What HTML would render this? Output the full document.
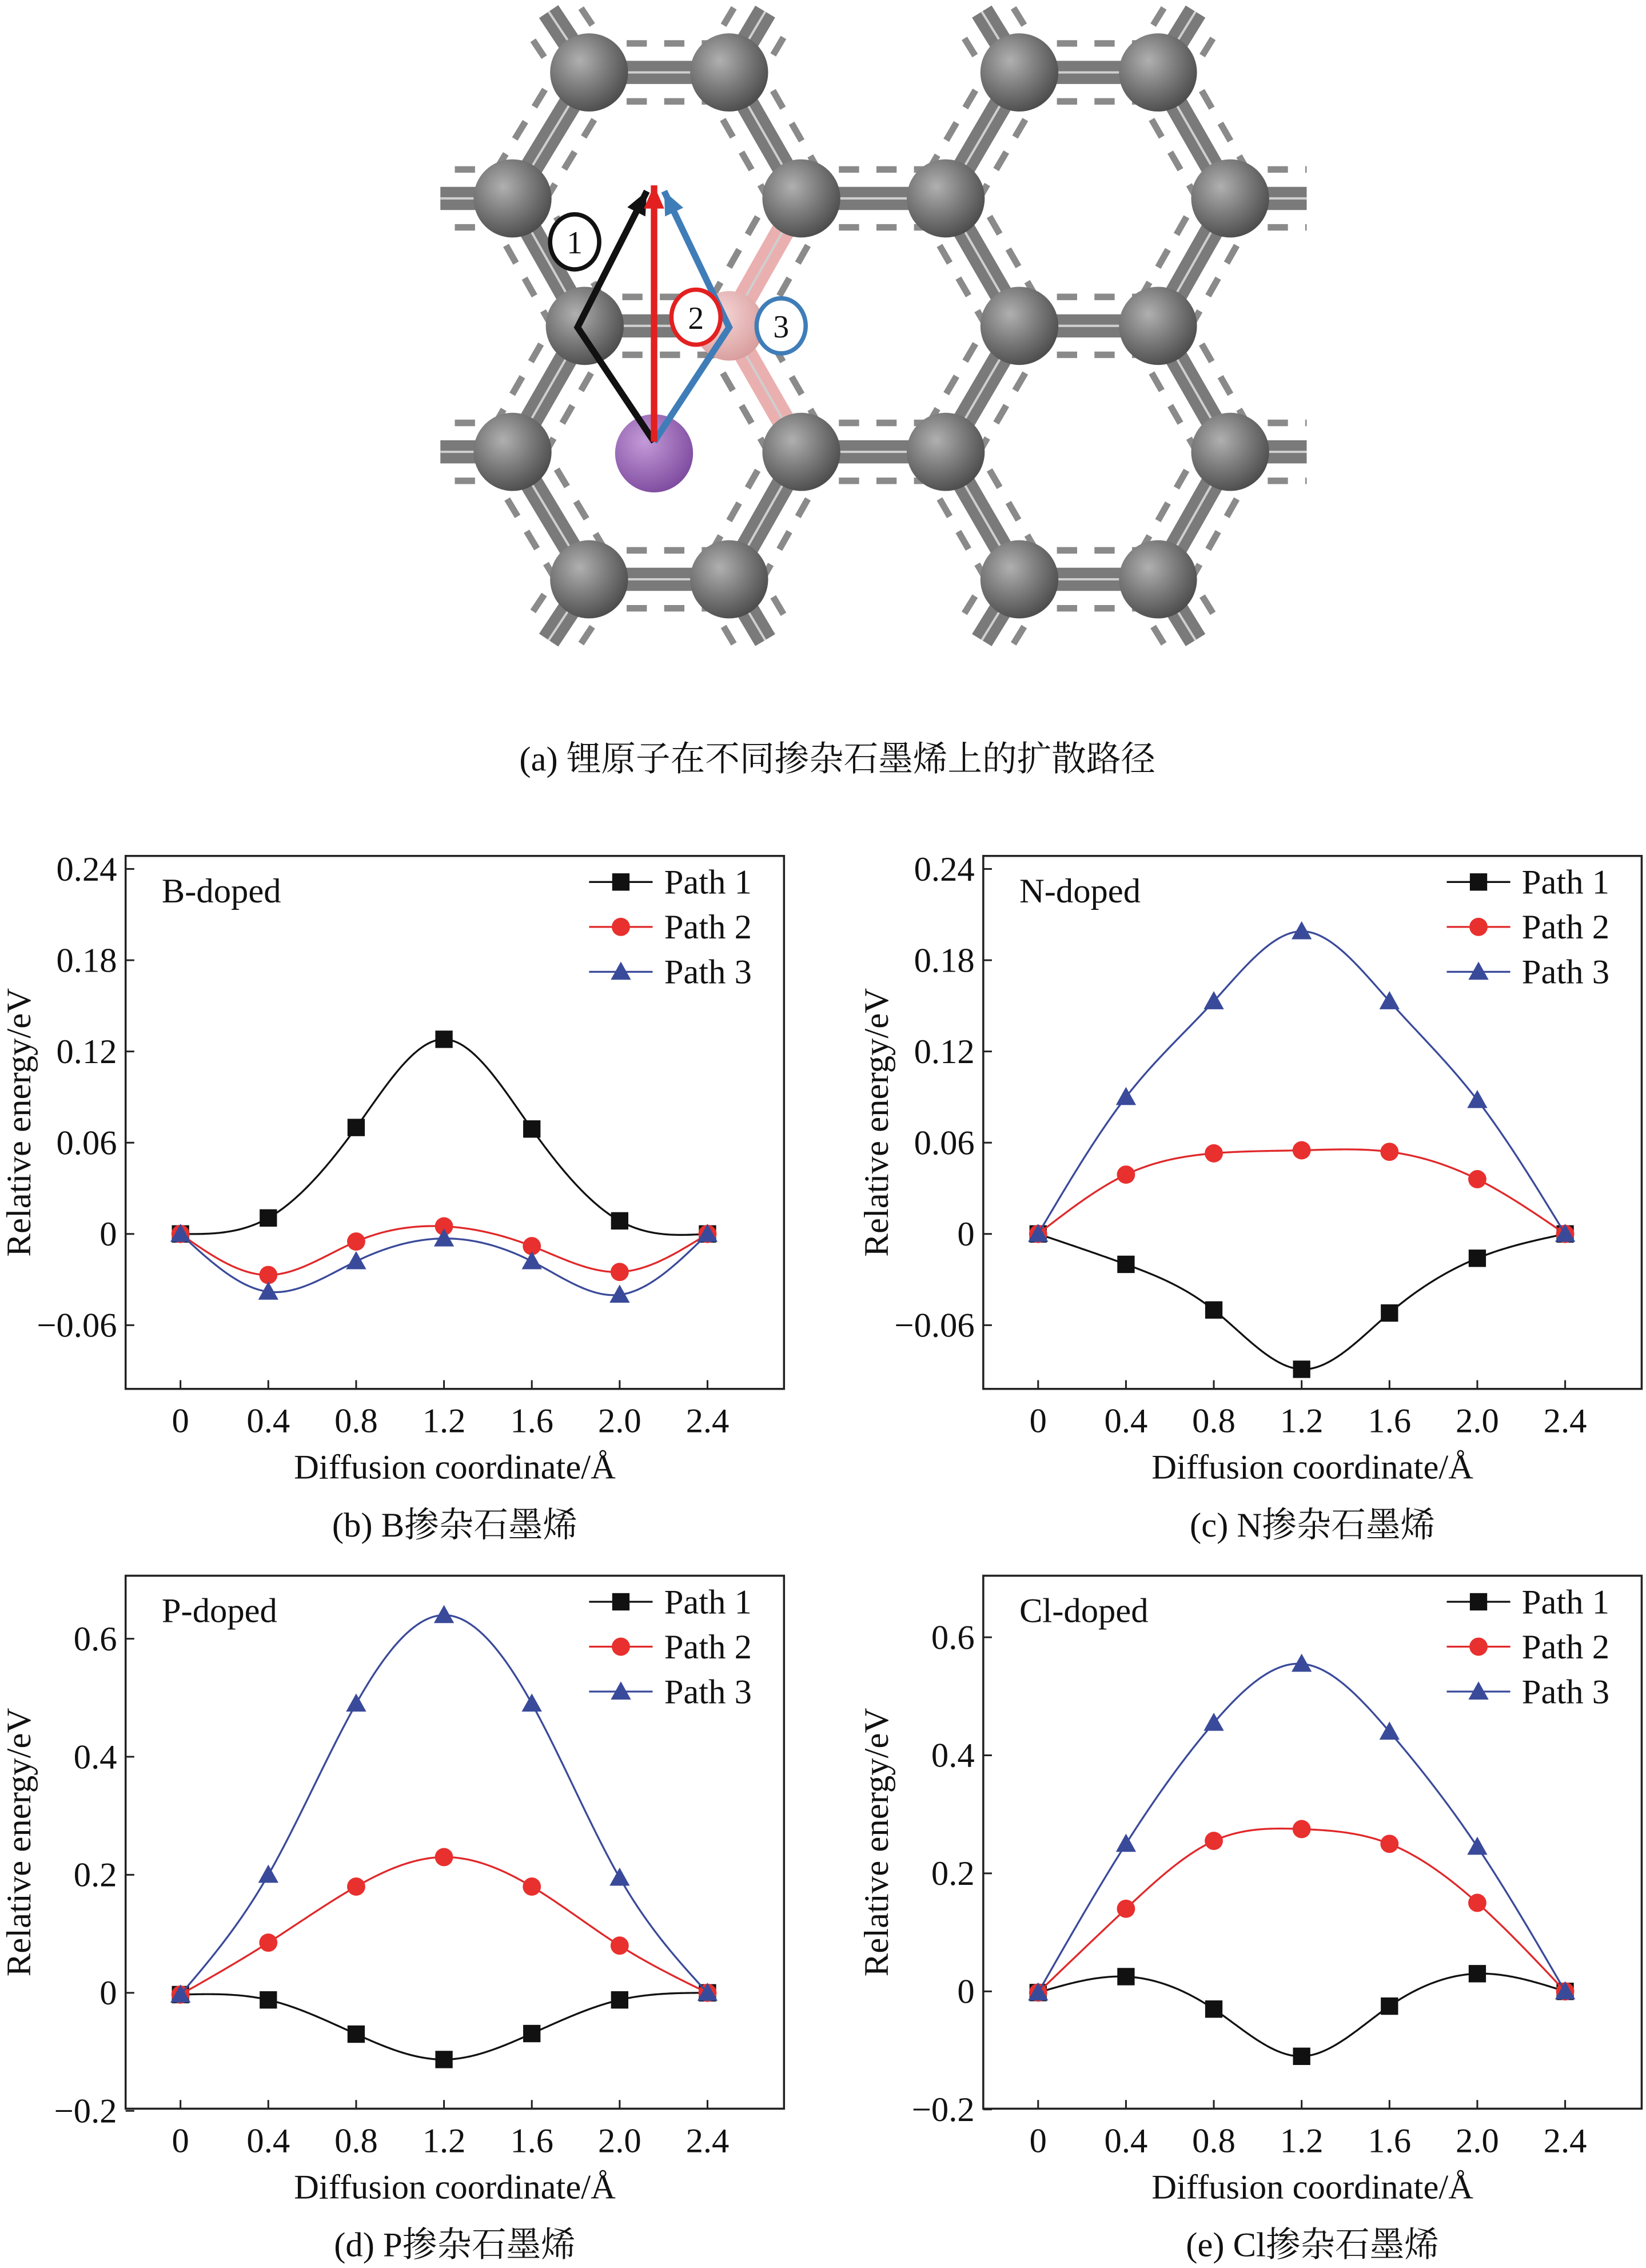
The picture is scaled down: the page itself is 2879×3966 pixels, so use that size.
<!DOCTYPE html>
<html><head><meta charset="utf-8"><style>
html,body{margin:0;padding:0;background:#fff;width:2879px;height:3966px;overflow:hidden}
svg{display:block}
text{font-family:"Liberation Serif","Noto Serif CJK SC","Noto Sans CJK SC",serif;fill:#111}
</style></head><body>
<svg id="root" width="2879" height="3966" viewBox="0 0 1140 1566" preserveAspectRatio="none" xmlns="http://www.w3.org/2000/svg">
<defs>
<radialGradient id="cg" cx="0.38" cy="0.35" r="0.7"><stop offset="0" stop-color="#b0b0b0"/><stop offset="0.5" stop-color="#7c7c7c"/><stop offset="1" stop-color="#4a4a4a"/></radialGradient>
<radialGradient id="pg" cx="0.38" cy="0.35" r="0.7"><stop offset="0" stop-color="#f6d6d6"/><stop offset="1" stop-color="#d89c9c"/></radialGradient>
<radialGradient id="lg" cx="0.38" cy="0.35" r="0.7"><stop offset="0" stop-color="#c49ad8"/><stop offset="1" stop-color="#7d4a9e"/></radialGradient>
</defs>
<g id="mol"></g>
<text x="580" y="532" text-anchor="middle" font-size="24">(a) 锂原子在不同掺杂石墨烯上的扩散路径</text>
<g id="charts"></g>
</svg>
<script>
// ---- chart data ----
var xCats = [0, 0.4, 0.8, 1.2, 1.6, 2.0, 2.4];
var xTickLabels = ["0","0.4","0.8","1.2","1.6","2.0","2.4"];
var seriesNames = ["Path 1","Path 2","Path 3"];
var bPath1 = [0, 0.0105, 0.070, 0.128, 0.069, 0.0086, 0];
var bPath2 = [0, -0.027, -0.005, 0.005, -0.008, -0.025, 0];
var bPath3 = [0, -0.038, -0.018, -0.003, -0.018, -0.040, 0];
var cPath1 = [0, -0.020, -0.050, -0.089, -0.052, -0.016, 0];
var cPath2 = [0, 0.039, 0.053, 0.055, 0.054, 0.036, 0];
var cPath3 = [0, 0.090, 0.153, 0.199, 0.153, 0.088, 0];
var dPath1 = [-0.003, -0.012, -0.070, -0.113, -0.069, -0.012, 0];
var dPath2 = [-0.003, 0.085, 0.180, 0.230, 0.180, 0.080, 0];
var dPath3 = [-0.003, 0.200, 0.490, 0.640, 0.490, 0.195, 0];
var ePath1 = [-0.002, 0.025, -0.030, -0.110, -0.025, 0.030, 0];
var ePath2 = [-0.002, 0.140, 0.255, 0.275, 0.250, 0.150, 0];
var ePath3 = [-0.002, 0.250, 0.455, 0.555, 0.440, 0.245, 0];
var smallTicks = [-0.06, 0, 0.06, 0.12, 0.18, 0.24];
var smallTickLabels = ["\u22120.06","0","0.06","0.12","0.18","0.24"];
var bigTicks = [-0.2, 0, 0.2, 0.4, 0.6];
var bigTickLabels = ["\u22120.2","0","0.2","0.4","0.6"];

var NS="http://www.w3.org/2000/svg";
function mk(tag, attrs, parent){var e=document.createElementNS(NS,tag);for(var k in attrs)e.setAttribute(k,attrs[k]);if(parent)parent.appendChild(e);return e;}
var lineColors=["#111","#e0282a","#3a4a9a"];

function spline(xs, ys){
  var n=xs.length, h=[], a=[], l=[1], mu=[0], z=[0], c=new Array(n).fill(0), b=[], d=[];
  for(var i=0;i<n-1;i++)h[i]=xs[i+1]-xs[i];
  for(i=1;i<n-1;i++)a[i]=3/h[i]*(ys[i+1]-ys[i])-3/h[i-1]*(ys[i]-ys[i-1]);
  for(i=1;i<n-1;i++){l[i]=2*(xs[i+1]-xs[i-1])-h[i-1]*mu[i-1];mu[i]=h[i]/l[i];z[i]=(a[i]-h[i-1]*z[i-1])/l[i];}
  l[n-1]=1;z[n-1]=0;
  for(var j=n-2;j>=0;j--){c[j]=z[j]-mu[j]*c[j+1];b[j]=(ys[j+1]-ys[j])/h[j]-h[j]*(c[j+1]+2*c[j])/3;d[j]=(c[j+1]-c[j])/(3*h[j]);}
  return function(x){var k=0;while(k<n-2&&x>xs[k+1])k++;var t=x-xs[k];return ys[k]+b[k]*t+c[k]*t*t+d[k]*t*t*t;};
}

function chart(cfg){
  var g=mk("g",{},document.getElementById("charts"));
  
  
  var L=cfg.left,R=cfg.left+456,T=cfg.top,B=cfg.top+368;
  var X=function(v){return cfg.x0+v*(365/2.4);};
  var Y=function(v){return cfg.y0-v*cfg.ppu;};
  var fr=mk("rect",{x:L,y:T,width:R-L,height:B-T,fill:"none",stroke:"#222","stroke-width":1.4},g);
  
  
  xCats.forEach(function(v,i){
    var t=mk("line",{x1:X(v),x2:X(v),y1:B,y2:B-6,stroke:"#222","stroke-width":1.2},g);
    
    
    var lb=mk("text",{x:X(v),y:B+30,"text-anchor":"middle","font-size":24},g);lb.textContent=xTickLabels[i];
    
    
  });
  cfg.ticks.forEach(function(v,i){
    var t=mk("line",{x1:L,x2:L+6,y1:Y(v),y2:Y(v),stroke:"#222","stroke-width":1.2},g);
    
    
    var lb=mk("text",{x:L-6,y:Y(v)+8,"text-anchor":"end","font-size":24},g);lb.textContent=cfg.tickLabels[i];
    
    
  });
  var xt=mk("text",{x:(L+R)/2,y:B+62,"text-anchor":"middle","font-size":24},g);xt.textContent="Diffusion coordinate/\u00C5";
  
  
  var yt=mk("text",{x:0,y:0,"text-anchor":"middle","font-size":24,transform:"translate("+(L-66)+","+((T+B)/2)+") rotate(-90)"},g);yt.textContent="Relative energy/eV";
  
  
  var cap=mk("text",{x:(L+R)/2,y:B+102,"text-anchor":"middle","font-size":24},g);cap.textContent=cfg.caption;
  
  
  var lab=mk("text",{x:L+25,y:T+32,"font-size":24},g);lab.textContent=cfg.label;
  
  
  cfg.series.forEach(function(s,si){
    var f=spline(xCats,s),d="";
    for(var k=0;k<=240;k++){var xv=2.4*k/240;d+=(k?"L":"M")+X(xv).toFixed(2)+","+Y(f(xv)).toFixed(2);}
    var p=mk("path",{d:d,fill:"none",stroke:lineColors[si],"stroke-width":1.3},g);
    
    
    s.forEach(function(v,i){
      var m=marker(g,si,X(xCats[i]),Y(v));
      
      
    });
    var ly=T+18+si*31;
    var ll=mk("line",{x1:L+321,x2:L+365,y1:ly,y2:ly,stroke:lineColors[si],"stroke-width":1.3},g);
    
    
    var lm=marker(g,si,L+343,ly);
    
    
    var lt=mk("text",{x:L+373,y:ly+8,"font-size":24},g);lt.textContent=seriesNames[si];
    
    
  });
}
function marker(g,si,x,y){
  if(si==0)return mk("rect",{x:x-6,y:y-6,width:12,height:12,fill:"#111"},g);
  if(si==1)return mk("circle",{cx:x,cy:y,r:6.3,fill:"#e8302e"},g);
  return mk("polygon",{points:(x)+","+(y-7)+" "+(x-7)+","+(y+5.5)+" "+(x+7)+","+(y+5.5),fill:"#3a4a9a"},g);
}
chart({name:"chart-b-doped",left:87,top:591,x0:125,y0:852,ppu:1050,ticks:smallTicks,tickLabels:smallTickLabels,label:"B-doped",caption:"(b) B掺杂石墨烯",series:[bPath1,bPath2,bPath3]});
chart({name:"chart-n-doped",left:681,top:591,x0:719,y0:852,ppu:1050,ticks:smallTicks,tickLabels:smallTickLabels,label:"N-doped",caption:"(c) N掺杂石墨烯",series:[cPath1,cPath2,cPath3]});
chart({name:"chart-p-doped",left:87,top:1088,x0:125,y0:1376,ppu:407.5,ticks:bigTicks,tickLabels:bigTickLabels,label:"P-doped",caption:"(d) P掺杂石墨烯",series:[dPath1,dPath2,dPath3]});
chart({name:"chart-cl-doped",left:681,top:1088,x0:719,y0:1375,ppu:407.5,ticks:bigTicks,tickLabels:bigTickLabels,label:"Cl-doped",caption:"(e) Cl掺杂石墨烯",series:[ePath1,ePath2,ePath3]});

// ---- molecule diagram ----
var mol=document.getElementById("mol");
var atoms=[[408,50],[505,50],[706,50],[802,50],[355,137],[555,137],[655,137],[852,137],[405,225],[505,225],[706,225],[802,225],[355,312],[555,312],[655,312],[852,312],[408,400],[505,400],[706,400],[802,400]];
var bonds=[[0,1],[2,3],[5,6],[8,9],[10,11],[13,14],[16,17],[18,19],[0,4],[1,5],[2,6],[3,7],[4,8],[5,9],[6,10],[7,11],[8,12],[9,13],[10,14],[11,15],[12,16],[13,17],[14,18],[15,19]];
var stubs=[[4,305,137],[7,905,137],[12,305,312],[15,905,312],[0,380,8],[1,530,8],[2,680,8],[3,828,8],[16,380,442],[17,530,442],[18,680,442],[19,828,442]];
function bond(x1,y1,x2,y2,col){
  var dx=x2-x1,dy=y2-y1,len=Math.hypot(dx,dy),nx=-dy/len*20,ny=dx/len*20;
  [1,-1].forEach(function(s){
    var dl=mk("line",{x1:x1+nx*s,y1:y1+ny*s,x2:x2+nx*s,y2:y2+ny*s,stroke:"#8a8a8a","stroke-width":4.5,"stroke-dasharray":"14 12"},mol);
    
    
  });
  var b1=mk("line",{x1:x1,y1:y1,x2:x2,y2:y2,stroke:col||"#7a7a7a","stroke-width":16},mol);
  
  
  var b2=mk("line",{x1:x1,y1:y1,x2:x2,y2:y2,stroke:"#cfcfcf","stroke-width":1.6},mol);
  
  
}
bonds.forEach(function(b){var a=atoms[b[0]],c=atoms[b[1]];var pink=(b[0]==9||b[1]==9)&&!(b[0]==8&&b[1]==9);bond(a[0],a[1],c[0],c[1],pink?"#eab0b0":null);});
stubs.forEach(function(s){var a=atoms[s[0]];bond(a[0],a[1],s[1],s[2]);});
atoms.forEach(function(a,i){
  var c=mk("circle",{cx:a[0],cy:a[1],r:i==9?24:27,fill:i==9?"url(#pg)":"url(#cg)"},mol);
  
  
});
var li=mk("circle",{cx:453,cy:313,r:27,fill:"url(#lg)"},mol);


function arrow(pts,col,name){
  var p=mk("polyline",{points:pts.map(function(q){return q.join(",");}).join(" "),fill:"none",stroke:col,"stroke-width":4.5},mol);
  
  
  var e=pts[pts.length-1],s=pts[pts.length-2],ang=Math.atan2(e[1]-s[1],e[0]-s[0]);
  var h=mk("polygon",{points:e[0]+","+e[1]+" "+(e[0]-16*Math.cos(ang)+7*Math.sin(ang))+","+(e[1]-16*Math.sin(ang)-7*Math.cos(ang))+" "+(e[0]-16*Math.cos(ang)-7*Math.sin(ang))+","+(e[1]-16*Math.sin(ang)+7*Math.cos(ang)),fill:col},mol);
  
  
}
arrow([[453,305],[400,226],[448,132]],"#111","path-1-arrow");
arrow([[453,305],[505,226],[460,132]],"#3f7db8","path-3-arrow");
arrow([[453,305],[453,128]],"#e32020","path-2-arrow");
[[398,167,"1","#111"],[482,219,"2","#e32020"],[541,225,"3","#3f7db8"]].forEach(function(c){
  var ci=mk("ellipse",{cx:c[0],cy:c[1],rx:17,ry:19,fill:"#fff",stroke:c[3],"stroke-width":3},mol);
  
  
  var t=mk("text",{x:c[0],y:c[1]+8,"text-anchor":"middle","font-size":22},mol);t.textContent=c[2];
  
  
});
</script>
</body></html>
